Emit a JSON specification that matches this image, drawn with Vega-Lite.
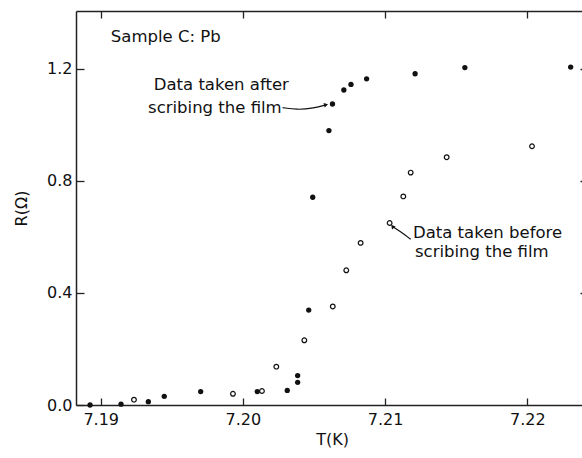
{
  "$schema": "https://vega.github.io/schema/vega-lite/v6.json",
  "autosize": {"type": "none"},
  "padding": {"left": 76, "top": 11, "right": 0, "bottom": 53},
  "width": 512,
  "height": 394,
  "background": "white",
  "config": {
    "view": {"stroke": null},
    "font": "DejaVu Sans",
    "axis": {"domainColor": "#222", "domainWidth": 1.5, "tickColor": "#222", "tickWidth": 1.3, "labelColor": "#111", "titleColor": "#111", "labelFont": "DejaVu Sans", "titleFont": "DejaVu Sans", "grid": false, "labelFontWeight": "normal", "titleFontWeight": "normal"}
  },
  "datasets": {
    "pts": [
      {"T": 7.18925, "R": 0.0, "series": "after"},
      {"T": 7.19143, "R": 0.003, "series": "after"},
      {"T": 7.19335, "R": 0.012, "series": "after"},
      {"T": 7.19447, "R": 0.031, "series": "after"},
      {"T": 7.19703, "R": 0.048, "series": "after"},
      {"T": 7.20101, "R": 0.048, "series": "after"},
      {"T": 7.20312, "R": 0.052, "series": "after"},
      {"T": 7.20385, "R": 0.081, "series": "after"},
      {"T": 7.20385, "R": 0.105, "series": "after"},
      {"T": 7.20463, "R": 0.339, "series": "after"},
      {"T": 7.20491, "R": 0.742, "series": "after"},
      {"T": 7.20605, "R": 0.98, "series": "after"},
      {"T": 7.20630, "R": 1.075, "series": "after"},
      {"T": 7.20710, "R": 1.125, "series": "after"},
      {"T": 7.20760, "R": 1.145, "series": "after"},
      {"T": 7.20870, "R": 1.165, "series": "after"},
      {"T": 7.21211, "R": 1.183, "series": "after"},
      {"T": 7.21561, "R": 1.205, "series": "after"},
      {"T": 7.22305, "R": 1.207, "series": "after"},
      {"T": 7.19234, "R": 0.019, "series": "before"},
      {"T": 7.1993, "R": 0.04, "series": "before"},
      {"T": 7.20134, "R": 0.05, "series": "before"},
      {"T": 7.20235, "R": 0.137, "series": "before"},
      {"T": 7.20432, "R": 0.231, "series": "before"},
      {"T": 7.20632, "R": 0.352, "series": "before"},
      {"T": 7.20727, "R": 0.481, "series": "before"},
      {"T": 7.20828, "R": 0.579, "series": "before"},
      {"T": 7.21032, "R": 0.65, "series": "before"},
      {"T": 7.21128, "R": 0.745, "series": "before"},
      {"T": 7.2118, "R": 0.83, "series": "before"},
      {"T": 7.21433, "R": 0.885, "series": "before"},
      {"T": 7.22033, "R": 0.924, "series": "before"}
    ],
    "labels": [
      {"T": 7.19071, "R": 1.314, "text": "Sample C: Pb"},
      {"T": 7.19373, "R": 1.143, "text": "Data taken after"},
      {"T": 7.19333, "R": 1.061, "text": "scribing the film"},
      {"T": 7.21196, "R": 0.614, "text": "Data taken before"},
      {"T": 7.21210, "R": 0.546, "text": "scribing the film"}
    ],
    "arrow1": [
      {"T": 7.20279, "R": 1.062, "k": 1},
      {"T": 7.20380, "R": 1.054, "k": 2},
      {"T": 7.20500, "R": 1.060, "k": 3},
      {"T": 7.20585, "R": 1.072, "k": 4}
    ],
    "head1": [{"T": 7.20585, "R": 1.072}],
    "arrow2": [
      {"T": 7.21180, "R": 0.592, "k": 1},
      {"T": 7.21105, "R": 0.620, "k": 2},
      {"T": 7.21052, "R": 0.638, "k": 3}
    ],
    "head2": [{"T": 7.21052, "R": 0.638}]
  },
  "layer": [
    {
      "data": {"name": "pts"},
      "transform": [{"filter": "datum.series === 'after'"}],
      "mark": {"type": "point", "filled": true, "shape": "circle", "size": 28, "color": "#111", "opacity": 1},
      "encoding": {
        "x": {"field": "T", "type": "quantitative", "scale": {"domain": [7.188263, 7.224269], "nice": false, "zero": false},
          "axis": {"orient": "bottom", "values": [7.19, 7.20, 7.21, 7.22], "format": ".2f", "tickSize": -7, "labelFontSize": 16, "labelPadding": 13, "title": "T(K)", "titleFontSize": 16, "titlePadding": 4}},
        "y": {"field": "R", "type": "quantitative", "scale": {"domain": [0, 1.4071], "nice": false, "zero": false},
          "axis": {"orient": "left", "values": [0, 0.4, 0.8, 1.2], "format": ".1f", "tickSize": -8, "labelFontSize": 16, "labelPadding": 12, "title": "R(Ω)", "titleFontSize": 16, "titlePadding": 17}}
      }
    },
    {
      "data": {"name": "pts"},
      "transform": [{"filter": "datum.series === 'before'"}],
      "mark": {"type": "point", "filled": false, "shape": "circle", "size": 22, "color": "#111", "strokeWidth": 1.2, "opacity": 1},
      "encoding": {
        "x": {"field": "T", "type": "quantitative",
          "axis": {"orient": "top", "values": [7.19, 7.20, 7.21, 7.22], "tickSize": -7, "labels": false, "title": null}},
        "y": {"field": "R", "type": "quantitative",
          "axis": {"orient": "right", "values": [0.4, 0.8, 1.2], "tickSize": -8, "labels": false, "title": null}}
      }
    },
    {
      "data": {"name": "labels"},
      "mark": {"type": "text", "align": "left", "baseline": "middle", "fontSize": 16.5, "font": "DejaVu Sans", "color": "#111"},
      "encoding": {
        "x": {"field": "T", "type": "quantitative", "axis": null},
        "y": {"field": "R", "type": "quantitative", "axis": null},
        "text": {"field": "text"}
      }
    },
    {
      "data": {"name": "arrow1"},
      "mark": {"type": "line", "interpolate": "basis", "color": "#111", "strokeWidth": 1.2},
      "encoding": {
        "x": {"field": "T", "type": "quantitative", "axis": null},
        "y": {"field": "R", "type": "quantitative", "axis": null},
        "order": {"field": "k"}
      }
    },
    {
      "data": {"name": "head1"},
      "mark": {"type": "point", "shape": "triangle-right", "filled": true, "size": 22, "color": "#111", "angle": -15, "opacity": 1},
      "encoding": {
        "x": {"field": "T", "type": "quantitative", "axis": null},
        "y": {"field": "R", "type": "quantitative", "axis": null}
      }
    },
    {
      "data": {"name": "arrow2"},
      "mark": {"type": "line", "interpolate": "basis", "color": "#111", "strokeWidth": 1.2},
      "encoding": {
        "x": {"field": "T", "type": "quantitative", "axis": null},
        "y": {"field": "R", "type": "quantitative", "axis": null},
        "order": {"field": "k"}
      }
    },
    {
      "data": {"name": "head2"},
      "mark": {"type": "point", "shape": "triangle-up", "filled": true, "size": 22, "color": "#111", "angle": -40, "opacity": 1},
      "encoding": {
        "x": {"field": "T", "type": "quantitative", "axis": null},
        "y": {"field": "R", "type": "quantitative", "axis": null}
      }
    }
  ],
  "resolve": {"axis": {"x": "independent", "y": "independent"}}
}
